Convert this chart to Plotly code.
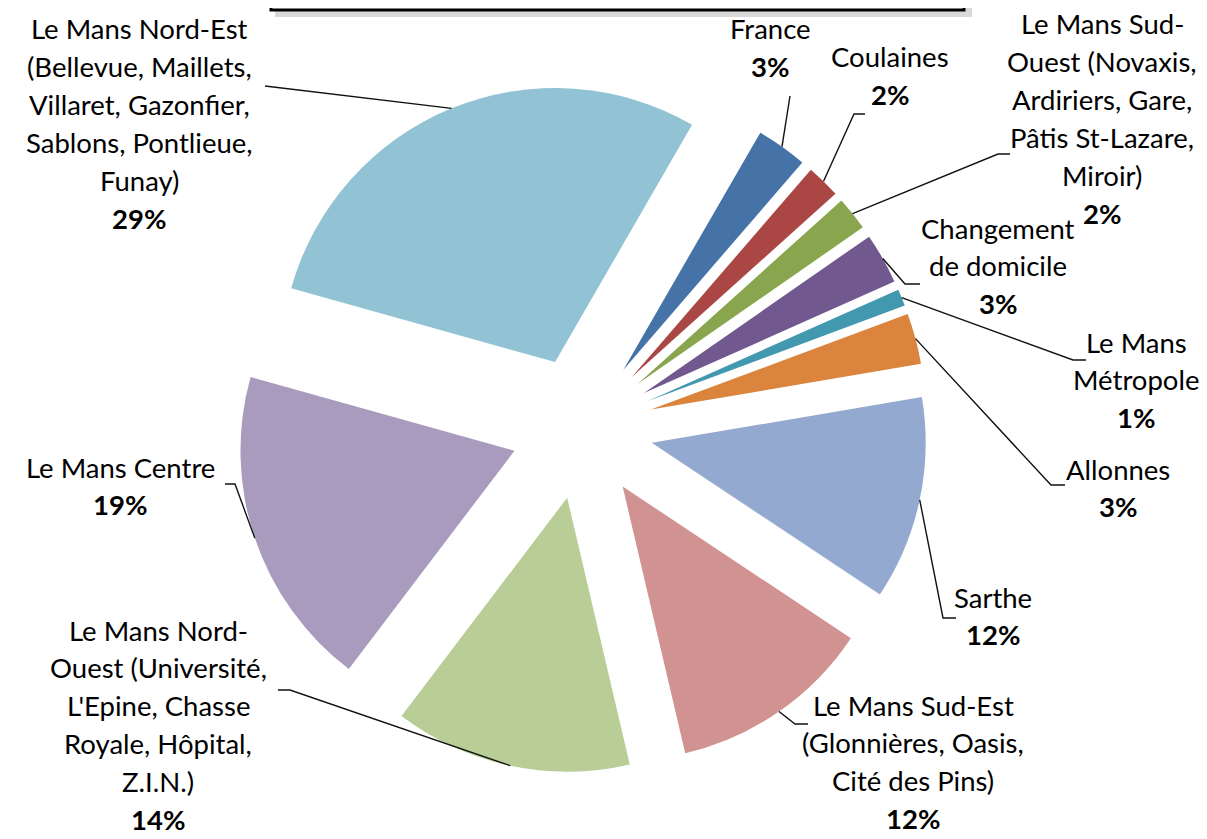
import math
import plotly.graph_objects as go

# Données du graphique (ordre des secteurs, sens horaire)
origines = ["France", "Coulaines", "Le Mans Sud-Ouest", "Changement de domicile",
            "Le Mans Métropole", "Allonnes", "Sarthe", "Le Mans Sud-Est",
            "Le Mans Nord-Ouest", "Le Mans Centre", "Le Mans Nord-Est"]
etiquettes = ["France",
              "Coulaines",
              "Le Mans Sud-<br>Ouest (Novaxis,<br>Ardiriers, Gare,<br>Pâtis St-Lazare,<br>Miroir)",
              "Changement<br>de domicile",
              "Le Mans<br>Métropole",
              "Allonnes",
              "Sarthe",
              "Le Mans Sud-Est<br>(Glonnières, Oasis,<br>Cité des Pins)",
              "Le Mans Nord-<br>Ouest (Université,<br>L'Epine, Chasse<br>Royale, Hôpital,<br>Z.I.N.)",
              "Le Mans Centre",
              "Le Mans Nord-Est<br>(Bellevue, Maillets,<br>Villaret, Gazonfier,<br>Sablons, Pontlieue,<br>Funay)"]
pourcentages = [3, 2, 2, 3, 1, 3, 12, 12, 14, 19, 29]

couleurs = ["#4572A7", "#AA4643", "#89A54E", "#71588F", "#4198AF", "#DB843D",
            "#93A9CF", "#D19392", "#B9CD96", "#A99BBD", "#92C3D4"]

# Mise en page (pixels)
W, H = 1207, 839
CX, CY = 574, 420
R = 274
PULL = 0.26
ROTATION = 30
PAS = 37.8   # interligne des étiquettes
DY = -9      # correction de la position verticale du texte

# x du centre et y de la première ligne de chaque étiquette
pos_etiquettes = [(763, 30), (882, 58), (1094, 25), (990, 229), (1128, 343),
                  (1110, 470), (985, 598), (905, 706), (150, 631), (112, 468),
                  (131, 30)]
# points de la ligne de rappel côté étiquette
coudes = [[(782, 88)],
          [(846, 106), (857, 106)],
          [(990, 146), (1002, 146)],
          [(897, 276), (912, 276)],
          [(1065, 352), (1078, 352)],
          [(1043, 477), (1057, 477)],
          [(935, 610), (948, 610)],
          [(787, 716), (800, 716)],
          [(282, 682), (270, 682)],
          [(227, 476), (217, 476)],
          [(257, 78)]]


def px(x):
    return x / W


def py(y):
    return 1 - y / H


half = R * (1 + PULL)
fig = go.Figure(go.Pie(
    labels=origines,
    values=pourcentages,
    sort=False,
    direction="clockwise",
    rotation=ROTATION,
    pull=[PULL] * len(pourcentages),
    marker=dict(colors=couleurs, line=dict(width=0)),
    textinfo="none",
    hoverinfo="label+percent",
    domain=dict(x=[px(CX - half), px(CX + half)], y=[py(CY + half), py(CY - half)]),
    showlegend=False,
))

# Lignes de rappel : du bord du secteur (angle médian) vers l'étiquette
total = sum(pourcentages)
angle = ROTATION
formes = []
for i, v in enumerate(pourcentages):
    milieu = math.radians(angle + 360 * v / total / 2)
    angle += 360 * v / total
    ax = CX + half * math.sin(milieu)
    ay = CY - half * math.cos(milieu)
    chemin = f"M {px(ax)},{py(ay)}"
    for (x, y) in coudes[i]:
        chemin += f" L {px(x)},{py(y)}"
    formes.append(dict(type="path", xref="paper", yref="paper", path=chemin,
                       line=dict(color="#111111", width=1.4)))

# Cadre du titre (coupé en haut de l'image)
formes.insert(0, dict(type="rect", xref="paper", yref="paper",
                      x0=px(267), x1=px(964), y0=py(9), y1=py(-40),
                      fillcolor="rgba(0,0,0,0.15)", line=dict(width=0)))
formes.insert(1, dict(type="rect", xref="paper", yref="paper",
                      x0=px(263), x1=px(956), y0=py(2), y1=py(-40),
                      fillcolor="white", line=dict(color="black", width=3)))

# Étiquettes : une annotation par ligne pour respecter l'interligne
annotations = []
for i, txt in enumerate(etiquettes):
    x, y0 = pos_etiquettes[i]
    lignes = txt.split("<br>") + [f"<b>{pourcentages[i]}%</b>"]
    for k, ligne in enumerate(lignes):
        annotations.append(dict(
            x=px(x), y=py(y0 + k * PAS + DY), xref="paper", yref="paper",
            text=ligne, showarrow=False, xanchor="center", yanchor="middle",
            borderpad=0,
            font=dict(family="Lato", size=27.5, color="black")))

fig.update_layout(
    width=W, height=H,
    margin=dict(l=0, r=0, t=0, b=0),
    paper_bgcolor="white",
    plot_bgcolor="white",
    shapes=formes,
    annotations=annotations,
)

fig.write_html("out.html")
